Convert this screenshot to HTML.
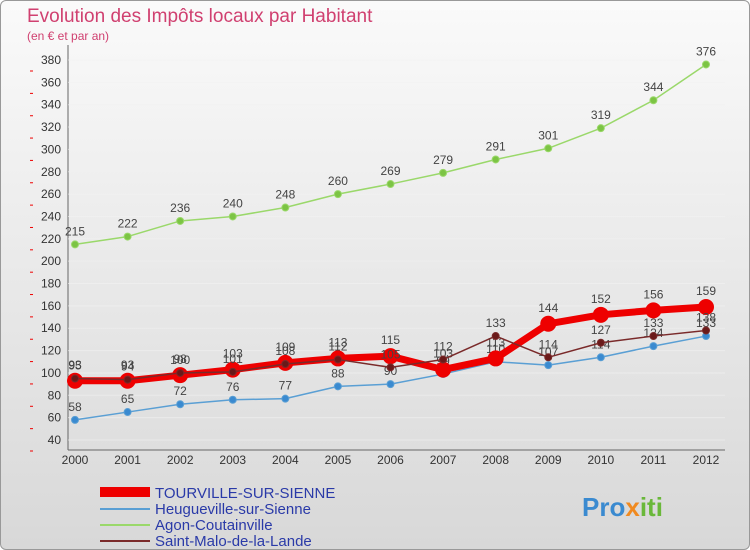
<!DOCTYPE html>
<html><head><meta charset="utf-8"><style>
body{margin:0;width:750px;height:550px;overflow:hidden;font-family:"Liberation Sans",sans-serif}
#wrap{position:relative;width:748px;height:548px;border:1px solid #999;border-radius:6px;background:linear-gradient(#fafafa,#d8d8d8);overflow:hidden}
</style></head><body>
<div id="wrap">
<svg id="c" width="750" height="550" style="position:absolute;left:-1px;top:-1px">
<text x="27" y="22" font-size="19" fill="#d04070">Evolution des Impôts locaux par Habitant</text>
<text x="27" y="40" font-size="12" fill="#d04070">(en € et par an)</text>
<g id="grid"></g><g id="series"></g>
<g font-size="15">
<rect x="100" y="487" width="50" height="10" fill="#e00"/>
<text x="155" y="498" fill="#2a3aa8">TOURVILLE-SUR-SIENNE</text>
<line x1="100" y1="509" x2="150" y2="509" stroke="#5a9fd4" stroke-width="2"/>
<text x="155" y="514" fill="#2a3aa8">Heugueville-sur-Sienne</text>
<line x1="100" y1="525" x2="150" y2="525" stroke="#9ad86a" stroke-width="2"/>
<text x="155" y="530" fill="#2a3aa8">Agon-Coutainville</text>
<line x1="100" y1="541" x2="150" y2="541" stroke="#7a2a2a" stroke-width="2"/>
<text x="155" y="546" fill="#2a3aa8">Saint-Malo-de-la-Lande</text>
</g>
<text x="582" y="516" font-size="26" font-weight="bold" fill="#3a8ad0">Pro<tspan fill="#f08a20">x</tspan><tspan fill="#6ab83a">iti</tspan></text>
</svg></div>
<script>
const years=["2000","2001","2002","2003","2004","2005","2006","2007","2008","2009","2010","2011","2012"];
const yTicks=[40,60,80,100,120,140,160,180,200,220,240,260,280,300,320,340,360,380];
const tourville=[93,93,98,103,109,113,115,103,113,144,152,156,159];
const heugueville=[58,65,72,76,77,88,90,99,110,107,114,124,133];
const agon=[215,222,236,240,248,260,269,279,291,301,319,344,376];
const saintMalo=[95,94,100,101,108,112,105,112,133,114,127,133,138];
const NS="http://www.w3.org/2000/svg";
const X=i=>75+i*(706-75)/(years.length-1);
const Y=v=>440-(v-40)*(380/340);
function mk(t,a,p){const e=document.createElementNS(NS,t);for(const k in a)e.setAttribute(k,a[k]);p.appendChild(e);return e;}
const g=document.getElementById('grid'),s=document.getElementById('series');
mk('line',{x1:68,y1:45,x2:68,y2:450,stroke:'#666'},g);
mk('line',{x1:68,y1:450,x2:725,y2:450,stroke:'#666'},g);
yTicks.forEach(v=>{
 const l=mk('line',{x1:68,x2:725,y1:Y(v),y2:Y(v),stroke:'#f2f2f2','stroke-width':1,opacity:0.6},g);
 
 
 mk('line',{x1:30,x2:33,y1:Y(v)+11,y2:Y(v)+11,stroke:'#e00'},g);
 const t=mk('text',{x:61,y:Y(v)+4,'font-size':12,'text-anchor':'end',fill:'#333'},g);t.textContent=v;
 
 
});
years.forEach((y,i)=>{
 const t=mk('text',{x:X(i),y:464,'font-size':12,'text-anchor':'middle',fill:'#333'},g);t.textContent=y;
 
 
});
function draw(vals,color,w,r,name,fill){
 const gg=mk('g',{},s);
 
 
 mk('polyline',{points:vals.map((v,i)=>X(i)+','+Y(v)).join(' '),fill:'none',stroke:color,'stroke-width':w,'stroke-linejoin':'round'},gg);
 vals.forEach((v,i)=>{
  const c=mk('circle',{cx:X(i),cy:Y(v),r:r,fill:fill,stroke:color,'stroke-width':1},gg);
  
  
  const t=mk('text',{x:X(i),y:Y(v)-9-(r>5?3:0),'font-size':12,'text-anchor':'middle',fill:'#444'},gg);t.textContent=v;
  
  
 });
}
draw(agon,'#9ad86a',1.5,3.5,'agon-series','#7cc444');
draw(heugueville,'#5a9fd4',1.5,3.5,'heugueville-series','#3a8ad0');
draw(tourville,'#ee0000',7,7.5,'tourville-series','#ee0000');
draw(saintMalo,'#7a2a2a',1.5,3.5,'saint-malo-series','#6a1a1a');
</script></body></html>
